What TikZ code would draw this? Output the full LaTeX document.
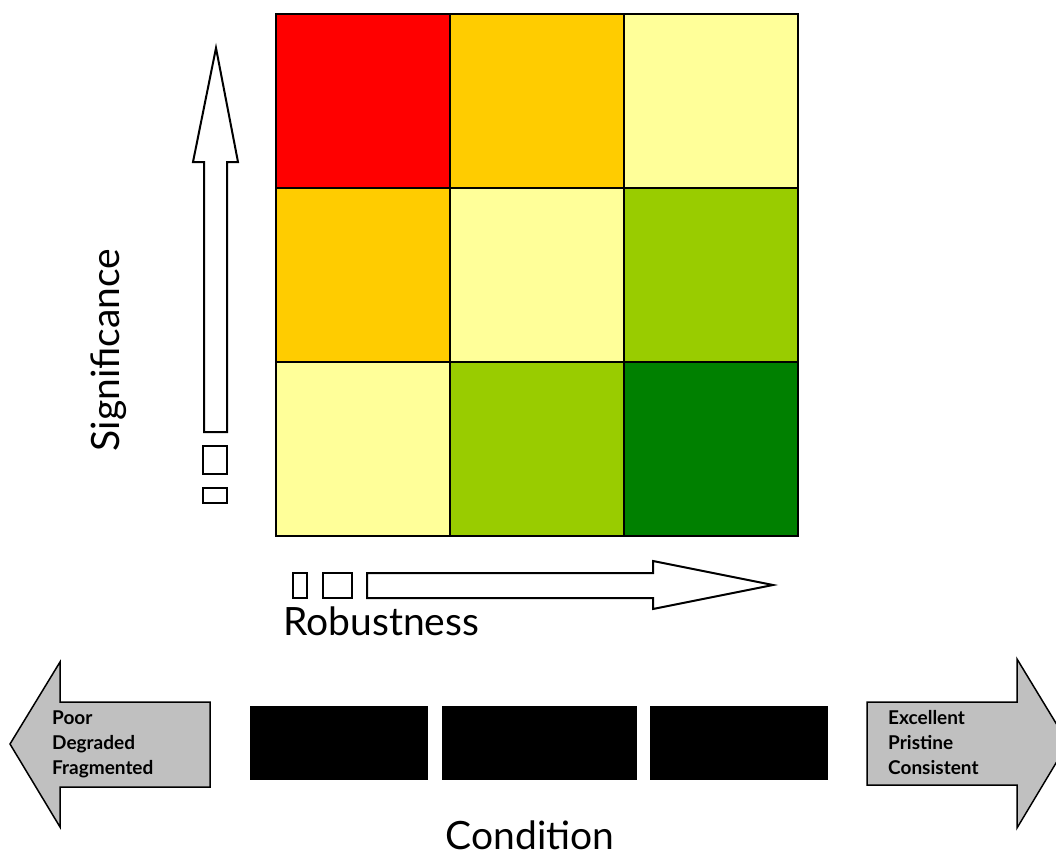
\documentclass[tikz,border=0pt]{standalone}
\usepackage{fontspec}
\setmainfont{Lato}
\usetikzlibrary{positioning}

\definecolor{riskred}{HTML}{FF0000}
\definecolor{riskamber}{HTML}{FFCC00}
\definecolor{riskpale}{HTML}{FFFF99}
\definecolor{risklime}{HTML}{99CC00}
\definecolor{riskgreen}{HTML}{008000}
\definecolor{tagfill}{HTML}{C0C0C0}

\tikzset{
    cell/.style={draw,line width=2pt,minimum size=174pt,inner sep=0pt,outer sep=0pt},
    hollow/.style={draw,line width=2pt,fill=white},
    tagarrow/.style={draw,line width=1.5pt,fill=tagfill},
    bar/.style={fill=black,minimum height=74pt,inner sep=0pt},
    axis/.style={font=\fontsize{39}{43}\selectfont,inner sep=0pt},
    tag/.style={font=\bfseries\fontsize{19}{25}\selectfont,align=left,inner sep=0pt,anchor=west}
}

\begin{document}
\begin{tikzpicture}[x=1pt,y=-1pt]

        \useasboundingbox (0,0) rectangle (1056,856);

        \node[cell,fill=riskred] (c11) at (363,101) {};
        \node[cell,fill=riskamber,right=0pt of c11] (c12) {};
        \node[cell,fill=riskpale,right=0pt of c12] (c13) {};
        \node[cell,fill=riskamber,below=0pt of c11] (c21) {};
        \node[cell,fill=riskpale,right=0pt of c21] (c22) {};
        \node[cell,fill=risklime,right=0pt of c22] (c23) {};
        \node[cell,fill=riskpale,below=0pt of c21] (c31) {};
        \node[cell,fill=risklime,right=0pt of c31] (c32) {};
        \node[cell,fill=riskgreen,right=0pt of c32] (c33) {};

        \draw[hollow] (204,432) -- (204,162) -- (193,162) -- (216,48) -- (238,162) -- (227,162) -- (227,432) -- cycle;
        \draw[hollow] (203,446) rectangle (227,474);
        \draw[hollow] (203,488) rectangle (227,503);
        \node[axis,rotate=90] (sig) at (109,350) {Significance};

        \draw[hollow] (367,573) -- (653,573) -- (653,561) -- (773,585) -- (653,609) -- (653,598) -- (367,598) -- cycle;
        \draw[hollow] (293,573) rectangle (307,598);
        \draw[hollow] (323,573) rectangle (352,598);
        \node[axis,anchor=south west] (rob) at (283,636) {Robustness};

        \draw[tagarrow] (210,702) -- (60,702) -- (60,662) -- (10,744) -- (60,827) -- (60,787) -- (210,787) -- cycle;
        \node[tag] (poor) at (52,744) {Poor\\Degraded\\Fragmented};

        \node[bar,minimum width=178pt] (b1) at (339,743) {};
        \node[bar,minimum width=195pt] (b2) at (539.5,743) {};
        \node[bar,minimum width=178pt] (b3) at (739,743) {};

        \draw[tagarrow] (867,702) -- (1017,702) -- (1017,659) -- (1068,743) -- (1017,828) -- (1017,785) -- (867,785) -- cycle;
        \node[tag] (good) at (888,743) {Excellent\\Pristine\\Consistent};

        \node[axis,anchor=south] (cond) at (530,850) {Condition};

\end{tikzpicture}
\end{document}
